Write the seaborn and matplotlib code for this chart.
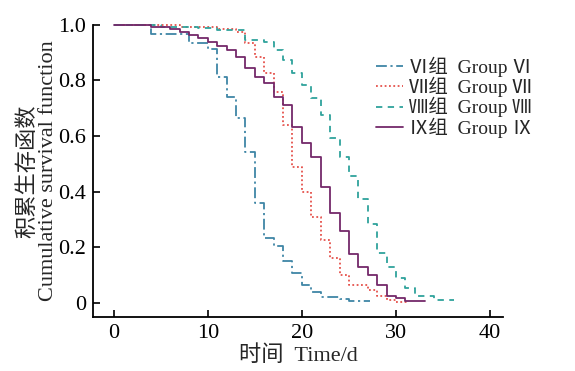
import pandas as pd
from matplotlib import pyplot as plt
import seaborn as sns

# step survival curves (time in days, survival fraction)
t_vi = [0, 4, 8, 10, 11, 12, 13, 14, 15, 16, 17, 18, 19, 20, 21, 22, 24, 25, 27.2]
s_vi = [1.0, 0.967, 0.934, 0.912, 0.812, 0.742, 0.666, 0.544, 0.358, 0.233, 0.203,
        0.152, 0.107, 0.065, 0.041, 0.023, 0.015, 0.008, 0.008]

t_vii = [0, 7, 11, 13, 14, 15, 16, 17, 18, 19, 20, 21, 22, 23, 24, 25, 27, 28, 29, 30, 31.2]
s_vii = [1.0, 0.994, 0.985, 0.976, 0.934, 0.886, 0.826, 0.758, 0.64, 0.49, 0.40, 0.31,
         0.227, 0.16, 0.10, 0.065, 0.047, 0.026, 0.011, 0.005, 0.005]

t_viii = [0, 5, 9, 11, 14, 16, 17, 18, 19, 20, 21, 22, 23, 24, 25, 26, 27, 28, 29,
          30, 31, 32, 34, 36.2]
s_viii = [1.0, 0.994, 0.988, 0.98, 0.946, 0.94, 0.91, 0.874, 0.826, 0.784, 0.736, 0.676,
          0.592, 0.526, 0.457, 0.373, 0.284, 0.181, 0.131, 0.091, 0.055, 0.026, 0.011, 0.011]

t_ix = [0, 4, 6, 7, 8, 9, 10, 11, 12, 13, 14, 15, 16, 17, 18, 19, 20, 21, 22, 23, 24,
        25, 26, 27, 28, 29, 30, 31, 33.1]
s_ix = [1.0, 0.994, 0.985, 0.976, 0.964, 0.952, 0.94, 0.925, 0.91, 0.886, 0.844, 0.814,
        0.79, 0.742, 0.712, 0.634, 0.574, 0.526, 0.418, 0.323, 0.259, 0.175, 0.131, 0.10,
        0.065, 0.025, 0.017, 0.008, 0.008]

labels = ["Ⅵ组  Group Ⅵ", "Ⅶ组  Group Ⅶ", "Ⅷ组  Group Ⅷ", "Ⅸ组  Group Ⅸ"]
colors = ["#3f86a6", "#e5524c", "#2fa39c", "#74296a"]
styles = [(0, (6, 2, 1.2, 2)), (0, (1, 1.4)), (0, (3.5, 3)), "-"]

sns.set_style("ticks")
fonts = ["Liberation Serif", "Noto Sans CJK SC", "DejaVu Serif"]
plt.rcParams["font.family"] = fonts

fig, ax = plt.subplots(figsize=(5.75, 3.71), dpi=100)
fig.subplots_adjust(left=0.162, right=0.875, top=0.933, bottom=0.146)

for tt, ss, lab, c, ls in zip([t_vi, t_vii, t_viii, t_ix], [s_vi, s_vii, s_viii, s_ix],
                              labels, colors, styles):
    d = pd.DataFrame({"t": tt, "s": ss})
    sns.lineplot(data=d, x="t", y="s", ax=ax, drawstyle="steps-post", estimator=None,
                 color=c, linestyle=ls, linewidth=1.3, label=lab, clip_on=False)

ax.set_xlim(-2.2, 41.4)
ax.set_ylim(-0.05, 1.0)
ax.set_xticks([0, 10, 20, 30, 40])
ax.set_yticks([0, 0.2, 0.4, 0.6, 0.8, 1.0])
ax.set_yticklabels(["0", "0.2", "0.4", "0.6", "0.8", "1.0"])
ax.tick_params(direction="in", length=5, width=1.2, labelsize=16, colors="black", pad=5)
for sp in ["top", "right"]:
    ax.spines[sp].set_visible(False)
for sp in ["left", "bottom"]:
    ax.spines[sp].set_linewidth(1.3)
    ax.spines[sp].set_color("black")

ax.set_ylabel("积累生存函数\nCumulative survival function", fontsize=16, labelpad=0,
              linespacing=1.05)
ax.set_xlabel("时间  Time/d", fontsize=16, labelpad=2)

ax.legend(frameon=False, loc="upper left", bbox_to_anchor=(0.665, 0.925), fontsize=14,
          handlelength=1.4, handletextpad=0.3, labelspacing=0.0, borderpad=0)

plt.savefig("out.png", dpi=100)
